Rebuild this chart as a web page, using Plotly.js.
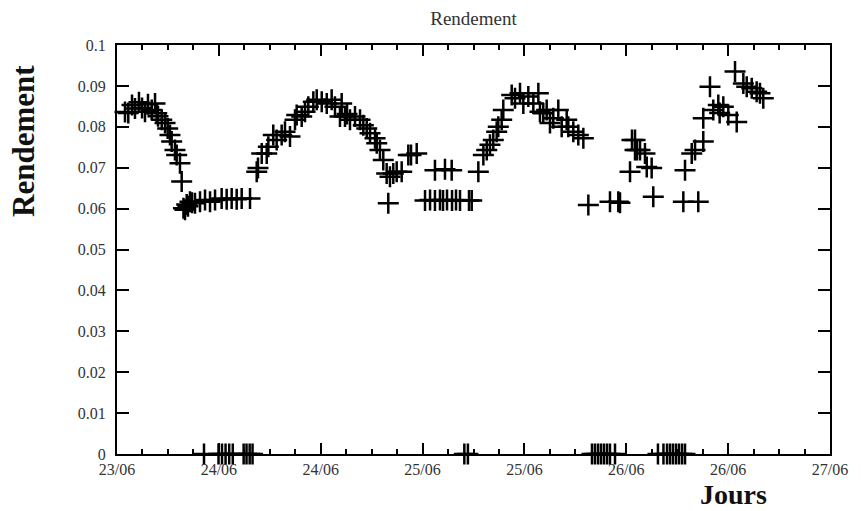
<!DOCTYPE html>
<html>
<head>
<meta charset="utf-8">
<script src="https://cdn.plot.ly/plotly-3.0.1.min.js"></script>
<style>html,body{margin:0;padding:0;background:#fff;}#chart{width:861px;height:511px;}</style>
</head>
<body>
<div id="chart"></div>
<script>
// Hours elapsed since 23/06 12:00
const heures = [
  0.94,1.33,1.77,2.12,2.59,2.95,3.30,3.65,4.09,4.48,4.68,4.83,5.27,5.66,5.97,6.24,6.44,6.83,7.03,7.42,7.62,
  7.83,8.01,8.21,8.36,8.60,8.84,9.19,9.78,10.37,10.96,11.55,12.33,12.92,13.51,14.10,14.69,15.67,
  16.46,16.61,17.05,17.64,17.83,18.41,18.81,19.40,19.79,20.38,20.97,21.17,21.76,22.15,22.54,23.13,23.53,24.12,24.71,25.29,25.68,26.27,26.47,26.86,27.10,27.45,
  28.04,28.63,29.02,29.42,29.81,30.40,30.60,30.98,31.37,31.77,32.16,32.55,32.95,33.54,31.96,34.32,34.64,35.31,37.46,38.64,39.43,42.57,
  36.29,36.88,37.46,38.05,38.41,38.88,39.47,39.94,40.41,41.47,41.79,
  43.16,43.56,43.94,44.33,44.73,44.92,45.32,45.51,
  46.50,46.89,47.48,47.87,48.46,49.05,49.64,49.83,50.22,50.62,51.01,51.40,51.99,52.39,52.98,
  53.17,53.76,54.35,54.94,55.53,58.08,59.06,59.26,
  60.44,60.67,61.03,61.03,61.26,61.62,62.20,62.41,62.99,63.18,
  66.92,67.71,68.10,66.72,68.48,69.07,69.07,69.86,70.25,70.84,71.00,71.43,72.02,73.01,
  72.81,73.79,74.19,74.78,75.36,75.75,76.14,
  10.25,11.96,12.37,12.79,13.22,13.64,14.92,15.26,15.63,15.97,40.92,41.34,
  55.96,56.31,56.67,57.02,57.37,57.73,58.08,58.67,63.73,64.38,64.80,65.15,65.50,65.86,66.21,66.57,66.92
];
const rendement = [
  0.0836,0.0834,0.0853,0.0845,0.0860,0.0846,0.0837,0.0855,0.0841,0.0857,0.0833,0.0826,0.0817,0.0809,0.0796,0.0780,0.0764,0.0743,0.0731,0.0711,0.0666,
  0.0601,0.0597,0.0610,0.0606,0.0617,0.0614,0.0613,0.0617,0.0621,0.0617,0.0621,0.0625,0.0623,0.0625,0.0623,0.0625,0.0625,
  0.0690,0.0699,0.0735,0.0735,0.0751,0.0780,0.0768,0.0780,0.0788,0.0776,0.0817,0.0829,0.0825,0.0837,0.0849,0.0861,0.0866,0.0861,0.0857,0.0866,0.0849,0.0825,0.0857,0.0825,0.0831,0.0817,
  0.0825,0.0817,0.0804,0.0796,0.0784,0.0772,0.0760,0.0743,0.0719,0.0686,0.0678,0.0686,0.0690,0.0690,0.0613,0.0731,0.0731,0.0735,0.0694,0.0696,0.0694,0.0690,
  0.0620,0.0621,0.0620,0.0621,0.0620,0.0621,0.0620,0.0621,0.0620,0.0620,0.0620,
  0.0731,0.0743,0.0756,0.0768,0.0788,0.0800,0.0817,0.0841,
  0.0878,0.0870,0.0882,0.0857,0.0874,0.0857,0.0882,0.0837,0.0833,0.0841,0.0809,0.0821,0.0841,0.0800,0.0817,
  0.0800,0.0788,0.0780,0.0772,0.0609,0.0617,0.0617,0.0614,
  0.0690,0.0768,0.0743,0.0768,0.0743,0.0743,0.0735,0.0702,0.0699,0.0629,
  0.0694,0.0735,0.0743,0.0617,0.0617,0.0764,0.0821,0.0898,0.0841,0.0853,0.0834,0.0849,0.0829,0.0812,
  0.0935,0.0906,0.0898,0.0894,0.0886,0.0882,0.0870,
  0,0,0,0,0,0,0,0,0,0,0,0,
  0,0,0,0,0,0,0,0,0,0,0,0,0,0,0,0,0
];
const tickHeures = [0,12,24,36,48,60,72,84];
const tickLabels = ['23/06','24/06','24/06','25/06','25/06','26/06','26/06','27/06'];
const yTicks = [0,0.01,0.02,0.03,0.04,0.05,0.06,0.07,0.08,0.09,0.1];

const serif = 'Liberation Serif, DejaVu Serif, serif';

const trace = {
  x: heures, y: rendement, type: 'scatter', mode: 'markers',
  cliponaxis: false,
  marker: {symbol: 'cross-thin', size: 15, color: '#000', line: {color: '#000', width: 2.5}},
  hoverinfo: 'x+y'
};

const layout = {
  width: 861, height: 511,
  margin: {l: 117, r: 31, t: 45, b: 57},
  paper_bgcolor: '#fff', plot_bgcolor: '#fff',
  showlegend: false,
  font: {family: serif, color: '#222', size: 16},
  title: {text: 'Rendement', font: {family: serif, size: 19, color: '#333'},
          xref: 'paper', x: 0.5, xanchor: 'center', yref: 'container', y: 0.965, yanchor: 'middle'},
  xaxis: {
    range: [0, 84], tickmode: 'array', tickvals: tickHeures, ticktext: tickLabels,
    showgrid: false, zeroline: false, showline: true, linecolor: '#000', linewidth: 2,
    mirror: 'allticks', ticks: 'inside', ticklen: 11, tickwidth: 2, tickcolor: '#000',
    tickfont: {family: serif, size: 16, color: '#333'},
    minor: {tickmode: 'linear', tick0: 0, dtick: 3, ticks: 'inside', ticklen: 5, tickwidth: 2, tickcolor: '#000', showgrid: false}
  },
  yaxis: {
    range: [0, 0.1], tickmode: 'array', tickvals: yTicks,
    showgrid: false, zeroline: false, showline: true, linecolor: '#000', linewidth: 2,
    mirror: 'allticks', ticks: 'inside', ticklen: 12, tickwidth: 2, tickcolor: '#000',
    tickfont: {family: serif, size: 16, color: '#333'}, ticklabelstandoff: 6
  },
  annotations: [
    {text: '<b>Rendement</b>', xref: 'paper', yref: 'paper', x: -0.132, y: 0.765,
     textangle: -90, showarrow: false, xanchor: 'center', yanchor: 'middle',
     font: {family: serif, size: 31, color: '#111'}},
    {text: '<b>Jours</b>', xref: 'paper', yref: 'paper', x: 0.864, y: -0.098,
     showarrow: false, xanchor: 'center', yanchor: 'middle',
     font: {family: serif, size: 28, color: '#111'}}
  ]
};

Plotly.newPlot('chart', [trace], layout, {displayModeBar: false, staticPlot: true});
</script>
</body>
</html>
